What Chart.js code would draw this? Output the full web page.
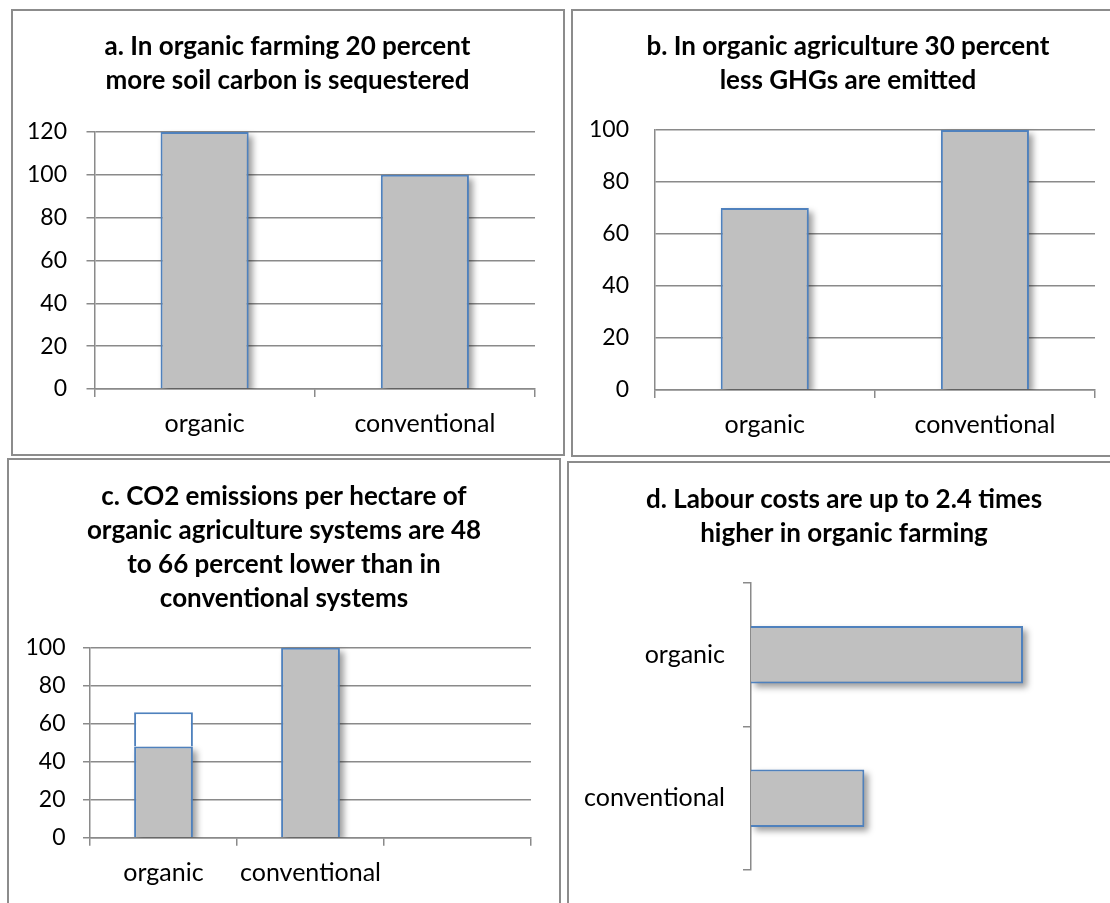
<!DOCTYPE html>
<html>
<head>
<meta charset="utf-8">
<script src="https://cdn.jsdelivr.net/npm/chart.js@4.4.1/dist/chart.umd.min.js"></script>
<style>
  html, body { margin: 0; padding: 0; background: #fff; overflow: hidden; }
  body { width: 1110px; height: 903px; position: relative; }
  canvas { position: absolute; }
  .frame { position: absolute; border: 2px solid #8c8c8c; box-sizing: border-box; pointer-events: none; }
  .open-right { border-right: none; }
  .open-bottom { border-bottom: none; }
</style>
</head>
<body>
<div class="frame" style="left:11px;top:9px;width:554px;height:447px"></div>
<div class="frame open-right" style="left:571px;top:9px;width:560px;height:448px"></div>
<div class="frame open-bottom" style="left:7px;top:458px;width:554px;height:460px"></div>
<div class="frame open-right open-bottom" style="left:567px;top:461px;width:560px;height:460px"></div>
<div id="wa" style="position:absolute;left:11px;top:9px;width:553px;height:446px"><canvas id="chartA"></canvas></div>
<div id="wb" style="position:absolute;left:571px;top:9px;width:554px;height:447px"><canvas id="chartB"></canvas></div>
<div id="wc" style="position:absolute;left:8px;top:458px;width:552px;height:445px"><canvas id="chartC"></canvas></div>
<div id="wd" style="position:absolute;left:568px;top:461px;width:552px;height:442px"><canvas id="chartD"></canvas></div>
<script>
// Categories and values for the four panels
const categories = ['organic', 'conventional'];
const soilCarbon = [120, 100];          // a. soil carbon sequestered (conventional = 100)
const ghgEmitted = [70, 100];           // b. GHG emissions (conventional = 100)
const co2Categories = ['organic', 'conventional', ''];
const co2Low = [48, 100, null];         // c. CO2 per hectare, lower bound
const co2High = [66, null, null];       // c. CO2 per hectare, upper bound of the organic range
const labourCost = [2.4, 1];            // d. labour costs relative to conventional

const titleA = ['a. In organic farming 20 percent', 'more soil carbon is sequestered'];
const titleB = ['b. In organic agriculture 30 percent', 'less GHGs are emitted'];
const titleC = ['c. CO2 emissions per hectare of', 'organic agriculture systems are 48', 'to 66 percent lower than in', 'conventional systems'];
const titleD = ['d. Labour costs are up to 2.4 times', 'higher in organic farming'];

const FILL = '#c0c0c0';
const EDGE = '#4f81bd';
const GRID = '#8a8a8a';
const FONT = 'Lato, "Open Sans", sans-serif';
const TITLE_SIZE = 26;
const VALUE_SIZE = 23;
const CATEGORY_SIZE = 25;

Chart.defaults.font.family = FONT;
Chart.defaults.color = '#000';
Chart.defaults.animation = false;
Chart.defaults.responsive = true;
Chart.defaults.maintainAspectRatio = false;

// soft drop shadow behind the filled bars
const barShadow = {
  id: 'barShadow',
  beforeDatasetsDraw(chart) {
    const ctx = chart.ctx;
    const horizontal = chart.options.indexAxis === 'y';
    const area = chart.chartArea;
    chart.data.datasets.forEach((ds, i) => {
      if (!ds.castShadow) return;
      chart.getDatasetMeta(i).data.forEach(bar => {
        const p = bar.getProps(['x', 'y', 'base', 'width', 'height'], true);
        if (![p.x, p.y, p.base].every(Number.isFinite)) return;
        let l, r, t, b;
        if (horizontal) {
          t = p.y - p.height / 2; b = p.y + p.height / 2;
          l = Math.min(p.x, p.base); r = Math.max(p.x, p.base);
        } else {
          l = p.x - p.width / 2; r = p.x + p.width / 2;
          t = Math.min(p.y, p.base); b = Math.max(p.y, p.base);
        }
        ctx.save();
        ctx.beginPath();
        if (horizontal) ctx.rect(area.left, 0, chart.width, chart.height);
        else ctx.rect(0, 0, chart.width, area.bottom);
        ctx.clip();
        ctx.filter = 'blur(3px)';
        ctx.fillStyle = 'rgba(0,0,0,0.38)';
        ctx.fillRect(l + 4, t + 4, r - l, b - t);
        ctx.restore();
      });
    });
  }
};

// centre each title over the whole panel rather than between the layout paddings
const centreTitle = {
  id: 'centreTitle',
  afterLayout(chart) {
    const t = chart.titleBlock;
    if (t) { t.left = 0; t.right = chart.width; t.width = chart.width; }
  }
};

function titleOpts(lines, top, bottom) {
  return {
    display: true,
    text: lines,
    color: '#000',
    font: { family: FONT, size: TITLE_SIZE, weight: 'bold', lineHeight: '34px' },
    padding: { top: top, bottom: bottom }
  };
}

function columnChart(id, labels, datasets, yMax, pad, tickLen, tickPad, titleLines, titleTop, titleBottom) {
  return new Chart(document.getElementById(id), {
    type: 'bar',
    data: { labels: labels, datasets: datasets },
    plugins: [barShadow, centreTitle],
    options: {
      layout: { padding: pad },
      plugins: {
        legend: { display: false },
        tooltip: { enabled: false },
        title: titleOpts(titleLines, titleTop, titleBottom)
      },
      scales: {
        x: {
          grid: { drawOnChartArea: false, drawTicks: true, tickLength: 8, color: GRID, lineWidth: 1.5 },
          border: { display: true, color: GRID, width: 1.5 },
          ticks: { font: { size: CATEGORY_SIZE }, padding: 12, color: '#000' },
          afterFit: s => { s.height = 50; }
        },
        y: {
          min: 0, max: yMax,
          grid: { drawTicks: tickLen > 0, tickLength: tickLen, color: GRID, lineWidth: 1.5 },
          border: { display: true, color: GRID, width: 1.5 },
          ticks: { stepSize: 20, font: { size: VALUE_SIZE }, padding: tickPad, color: '#000' },
          afterFit: s => { s.width = 70; }
        }
      }
    }
  });
}

function filledBars(values) {
  return {
    data: values,
    backgroundColor: FILL,
    borderColor: EDGE,
    borderWidth: 2,
    categoryPercentage: 0.8,
    barPercentage: 0.5,
    grouped: false,
    castShadow: true
  };
}

// a. soil carbon
columnChart('chartA', categories, [filledBars(soilCarbon)], 120,
  { left: 13.5, right: 29, top: 0, bottom: 16 }, 8, 19.5, titleA, 21, 34);

// b. greenhouse gases
columnChart('chartB', categories, [filledBars(ghgEmitted)], 100,
  { left: 13.7, right: 30, top: 0, bottom: 16 }, 0, 25.7, titleB, 21, 32);

// c. CO2 per hectare, with the organic range drawn as an open box above the lower bound
const co2Range = co2Low.map((v, i) => co2High[i] == null ? null : [v, co2High[i]]);
columnChart('chartC', co2Categories, [
  filledBars(co2Low),
  {
    data: co2Range,
    backgroundColor: '#ffffff',
    borderColor: EDGE,
    borderWidth: 2,
    categoryPercentage: 0.8,
    barPercentage: 0.5,
    grouped: false
  }
], 100, { left: 12, right: 29, top: 0, bottom: 15.3 }, 7, 17.5, titleC, 22, 31.7);

// d. labour costs, horizontal bars
new Chart(document.getElementById('chartD'), {
  type: 'bar',
  data: { labels: categories, datasets: [filledBars(labourCost)] },
  plugins: [barShadow, centreTitle],
  options: {
    indexAxis: 'y',
    layout: { padding: { left: 3, right: 29, top: 0, bottom: 24 } },
    plugins: {
      legend: { display: false },
      tooltip: { enabled: false },
      title: titleOpts(titleD, 22, 32)
    },
    scales: {
      x: { display: false, min: 0, max: 3 },
      y: {
        grid: { drawOnChartArea: false, drawTicks: true, tickLength: 8, color: GRID, lineWidth: 1.5 },
        border: { display: true, color: GRID, width: 1.5 },
        ticks: { font: { size: CATEGORY_SIZE }, padding: 18, color: '#000' },
        afterFit: s => { s.width = 180; }
      }
    }
  }
});
</script>
</body>
</html>
